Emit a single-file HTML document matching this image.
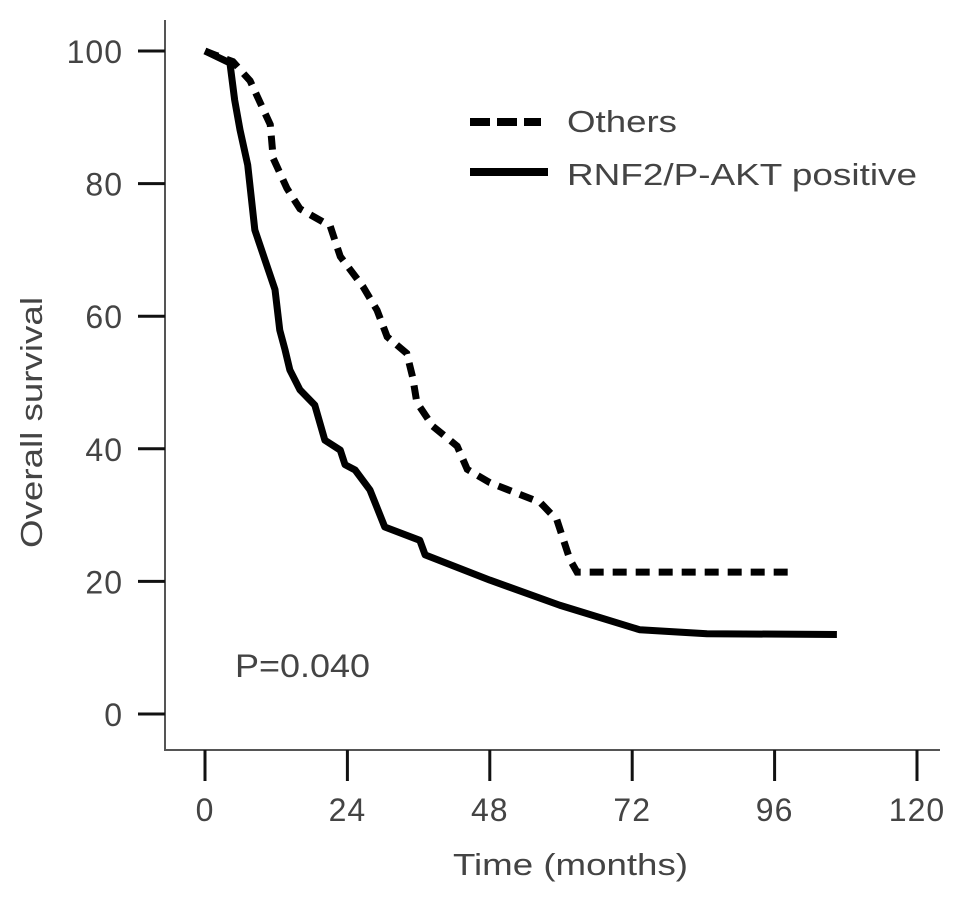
<!DOCTYPE html>
<html><head><meta charset="utf-8"><style>
html,body{margin:0;padding:0;background:#fff}
svg{display:block;font-family:"Liberation Sans",sans-serif}
</style></head><body>
<svg id="c" width="969" height="898"></svg>
<script>
const xTicks=[0,24,48,72,96,120];
const yTicks=[0,20,40,60,80,100];
const othersT=[0,1.7,4.7,7.6,11,11.5,13.8,16,21.1,22.8,26.6,29,30.7,34,35,35.7,38.4,42.5,44.2,48,56.5,59.3,61.5,62.7,99.4];
const othersS=[100,99.4,98.4,95.5,88.9,83.8,79.3,76.2,73.6,69,64.5,60.9,56.9,54.4,50.8,47,43.4,40.4,36.9,34.9,31.9,29.3,23.3,21.4,21.4];
const posT=[0,4.2,5,5.9,7.2,8.4,10.1,11.8,12.6,13.5,14.3,16,18.5,20.2,22.8,23.6,25.3,27.8,30.3,36.2,37.1,48,59.8,73.3,84.6,106.5];
const posS=[100,98.2,92.6,88.1,82.8,73,68.5,64,57.9,54.9,51.9,48.9,46.6,41.3,39.8,37.6,36.8,33.8,28.2,26.2,24,20.2,16.4,12.7,12.1,12];
const sx=v=>205+v*(917-205)/120;
const sy=v=>714-v*(714-51)/100;
const NS='http://www.w3.org/2000/svg';
const svg=document.getElementById('c');
function mk(t,a,p){const e=document.createElementNS(NS,t);for(const k in a)e.setAttribute(k,a[k]);(p||svg).appendChild(e);return e;}
const col='#444';
let e=mk('line',{x1:165,y1:20,x2:165,y2:750,stroke:'#555','stroke-width':2});


e=mk('line',{x1:164,y1:750,x2:940,y2:750,stroke:'#555','stroke-width':2});


yTicks.forEach(v=>{
 e=mk('line',{x1:138,x2:165,y1:sy(v),y2:sy(v),stroke:'#111','stroke-width':3});
 
 
 e=mk('text',{x:123,y:sy(v)+12,'text-anchor':'end','font-size':32,fill:col,'letter-spacing':1});e.textContent=v;
 
 
});
xTicks.forEach(v=>{
 e=mk('line',{x1:sx(v),x2:sx(v),y1:750,y2:781,stroke:'#111','stroke-width':3});
 
 
 e=mk('text',{x:sx(v),y:821,'text-anchor':'middle','font-size':32,fill:col,'letter-spacing':1});e.textContent=v;
 
 
});
e=mk('text',{x:453,y:875,'font-size':31,fill:col,textLength:235,lengthAdjust:'spacingAndGlyphs'});e.textContent='Time (months)';


e=mk('text',{x:0,y:0,'font-size':31,fill:col,textLength:251,lengthAdjust:'spacingAndGlyphs',transform:'translate(42,548) rotate(-90)'});e.textContent='Overall survival';


function pts(T,S){return T.map((t,i)=>sx(t)+','+sy(S[i])).join(' ');}
e=mk('polyline',{points:pts(othersT,othersS),fill:'none',stroke:'#000','stroke-width':7,'stroke-dasharray':'14,9'});


e=mk('polyline',{points:pts(posT,posS),fill:'none',stroke:'#000','stroke-width':7,'stroke-linejoin':'round'});


e=mk('line',{x1:470,x2:541,y1:122,y2:122,stroke:'#000','stroke-width':8,'stroke-dasharray':'20,7'});


e=mk('text',{x:567,y:132,'font-size':31,fill:col,textLength:110,lengthAdjust:'spacingAndGlyphs'});e.textContent='Others';


e=mk('line',{x1:470,x2:548,y1:172,y2:172,stroke:'#000','stroke-width':8});


e=mk('text',{x:567,y:185,'font-size':31,fill:col,textLength:350,lengthAdjust:'spacingAndGlyphs'});e.textContent='RNF2/P-AKT positive';


e=mk('text',{x:235,y:677,'font-size':32,fill:col,textLength:135,lengthAdjust:'spacingAndGlyphs'});e.textContent='P=0.040';


</script>
</body></html>
